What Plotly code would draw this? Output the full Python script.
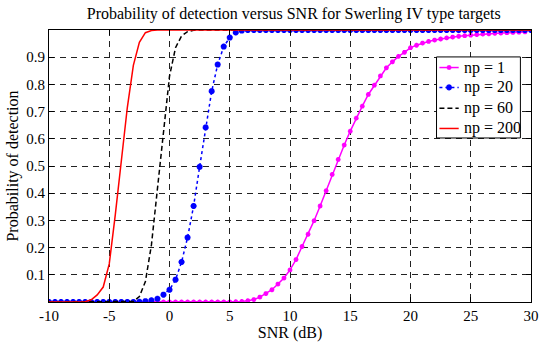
import plotly.graph_objects as go

snr_db = [-10 + 0.5 * i for i in range(81)]

# np = 1 (magenta)
pd_np1 = [0.0] * 31 + [0.001, 0.002, 0.005, 0.009, 0.018, 0.031, 0.045, 0.066, 0.088,
          0.118, 0.156, 0.204, 0.249, 0.299, 0.353, 0.409, 0.469, 0.524, 0.577,
          0.628, 0.676, 0.720, 0.763, 0.797, 0.831, 0.861, 0.883, 0.903, 0.918,
          0.935, 0.944, 0.952, 0.958, 0.963, 0.967, 0.971, 0.974, 0.977, 0.979,
          0.981, 0.983, 0.985, 0.986, 0.988, 0.989, 0.990, 0.991, 0.992, 0.993]
# np = 20 (blue)
pd_np20 = [0.0] * 15 + [0.001, 0.003, 0.006, 0.012, 0.027, 0.045, 0.082, 0.147, 0.237,
           0.353, 0.497, 0.642, 0.775, 0.873, 0.939, 0.972, 0.991, 0.998] + [1.0] * 48
# np = 60 (black)
pd_np60 = [0.0] * 14 + [0.002, 0.02, 0.075, 0.21, 0.42, 0.64, 0.83, 0.935, 0.978,
           0.994, 0.999] + [1.0] * 56
# np = 200 (red)
pd_np200 = [0.0] * 6 + [0.001, 0.008, 0.026, 0.055, 0.14, 0.32, 0.52, 0.715, 0.87,
            0.955, 0.99, 0.998] + [1.0] * 63

series_names = ["np = 1", "np = 20", "np = 60", "np = 200"]
x_ticks = [-10, -5, 0, 5, 10, 15, 20, 25, 30]
y_ticks = [0.1, 0.2, 0.3, 0.4, 0.5, 0.6, 0.7, 0.8, 0.9]

FONT = "Times New Roman, Liberation Serif, Times, serif"

styles = [
    dict(mode="lines+markers", line=dict(color="#ff00ff", width=1.5),
         marker=dict(symbol="asterisk-open", size=4, line=dict(color="#ff00ff", width=1.5))),
    dict(mode="lines+markers", line=dict(color="#0000ff", width=1.5, dash="dot"),
         marker=dict(symbol="asterisk-open", size=5, line=dict(color="#0000ff", width=2))),
    dict(mode="lines", line=dict(color="#000000", width=1.5, dash="5px,3px")),
    dict(mode="lines", line=dict(color="#ff0000", width=1.5)),
]
series_values = [pd_np1, pd_np20, pd_np60, pd_np200]

fig = go.Figure()
for name, vals, st in zip(series_names, series_values, styles):
    fig.add_trace(go.Scatter(x=snr_db, y=vals, name=name, showlegend=False, **st))

# ---- hand-drawn legend box (paper fractions of the plot area) ----
PW, PH = 490.0, 272.0  # plot area size in px, for pixel-sized legend glyphs
leg_left, leg_right, leg_top, leg_bottom = 0.804, 0.978, 0.901, 0.603
row_y = [0.862, 0.789, 0.712, 0.638]
samp_x0, samp_x1, text_x = 0.810, 0.850, 0.856

shapes = [dict(type="rect", xref="paper", yref="paper", x0=leg_left, x1=leg_right,
               y0=leg_bottom, y1=leg_top, fillcolor="white",
               line=dict(color="black", width=1), layer="above")]
annotations = []
for name, ry, st in zip(series_names, row_y, styles):
    shapes.append(dict(type="line", xref="paper", yref="paper", x0=samp_x0, x1=samp_x1,
                       y0=ry, y1=ry, layer="above",
                       line=dict(color=st["line"]["color"], width=st["line"]["width"],
                                 dash=st["line"].get("dash", "solid"))))
    annotations.append(dict(xref="paper", yref="paper", x=text_x, y=ry, text=name,
                            showarrow=False, xanchor="left", yanchor="middle",
                            font=dict(family=FONT, size=16, color="black")))
    if "marker" in st:
        cx = (samp_x0 + samp_x1) / 2
        r = st["marker"]["size"] / 2 + 0.5
        for dx, dy in [(1, 0), (0, 1), (0.7, 0.7), (0.7, -0.7)]:
            shapes.append(dict(type="line", xref="paper", yref="paper", layer="above",
                               x0=cx - dx * r / PW, x1=cx + dx * r / PW,
                               y0=ry - dy * r / PH, y1=ry + dy * r / PH,
                               line=dict(color=st["marker"]["line"]["color"],
                                         width=st["marker"]["line"]["width"])))

axis_common = dict(
    showline=True, linecolor="black", linewidth=1, mirror="allticks",
    ticks="inside", ticklen=5, tickcolor="black",
    showgrid=True, gridcolor="#222222", gridwidth=1, griddash="6px,5px",
    zeroline=False, tickfont=dict(family=FONT, size=15, color="black"),
    ticklabeloverflow="allow",
)

fig.update_layout(
    width=544, height=344,
    margin=dict(l=49, r=5, t=30, b=42),
    paper_bgcolor="white", plot_bgcolor="white",
    font=dict(family=FONT, color="black"),
    title=dict(text="Probability of detection versus SNR for Swerling IV type targets",
               font=dict(family=FONT, size=16, color="black"),
               x=0.54, xanchor="center", y=1 - 13 / 344, yanchor="middle"),
    xaxis=dict(range=[-10, 30], tickvals=x_ticks, ticktext=[str(v) for v in x_ticks],
               title=dict(text="SNR (dB)", font=dict(family=FONT, size=16), standoff=1),
               **axis_common),
    yaxis=dict(range=[0, 1], tickvals=y_ticks, ticktext=[str(v) for v in y_ticks],
               title=dict(text="Probability of detection", font=dict(family=FONT, size=16),
                          standoff=3),
               **axis_common),
    shapes=shapes,
    annotations=annotations,
    showlegend=False,
)

fig.write_html("out.html")
